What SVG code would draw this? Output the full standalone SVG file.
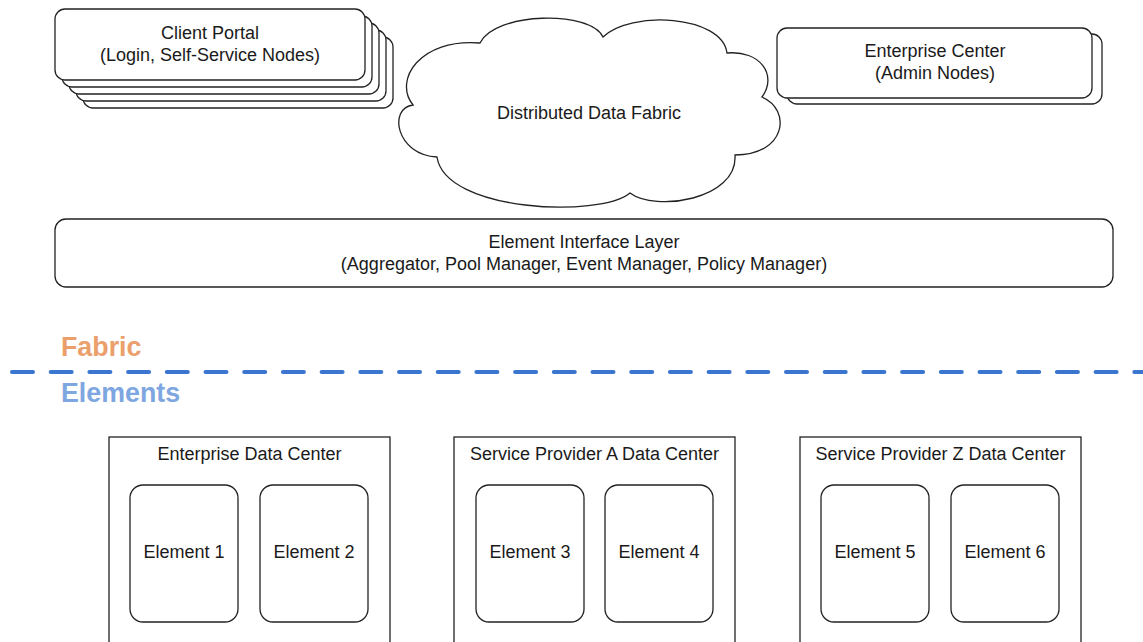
<svg xmlns="http://www.w3.org/2000/svg" width="1143" height="642" viewBox="0 0 1143 642">
<style>
.box{fill:#fff;stroke:#222;stroke-width:1.3}
.t{font-family:"Liberation Sans",Arial,sans-serif;font-size:18px;fill:#1a1a1a;text-anchor:middle}
.lbl{font-family:"Liberation Sans",Arial,sans-serif;font-size:26.8px;font-weight:bold}
</style>
<rect width="1143" height="642" fill="#fff"/>
<g id="client-portal">
<rect class="box" x="83" y="37" width="310" height="71" rx="10"/>
<rect class="box" x="76" y="30" width="310" height="71" rx="10"/>
<rect class="box" x="69" y="23" width="310" height="71" rx="10"/>
<rect class="box" x="62" y="16" width="310" height="71" rx="10"/>
<rect class="box" x="55" y="9" width="310" height="71" rx="10"/>
<text class="t" x="210" y="39">Client Portal</text>
<text class="t" x="210" y="61">(Login, Self-Service Nodes)</text>
</g>
<g id="cloud">
<path class="box" d="M480 43 C495 12,590 10,603 37 C630 10,722 15,727 53 C760 50,778 75,762 97 C792 110,786 155,735 155 C738 200,655 212,630 193 C600 218,445 212,437 157 C396 155,388 108,413 105 C393 80,420 38,480 43 Z"/>
<text class="t" x="589" y="119">Distributed Data Fabric</text>
</g>
<g id="enterprise-center">
<rect class="box" x="787" y="34" width="315" height="70" rx="10"/>
<rect class="box" x="777" y="28" width="315" height="70" rx="10"/>
<text class="t" x="935" y="57">Enterprise Center</text>
<text class="t" x="935" y="79">(Admin Nodes)</text>
</g>
<g id="element-interface-layer">
<rect class="box" x="55" y="219" width="1058" height="68" rx="11"/>
<text class="t" x="584" y="248">Element Interface Layer</text>
<text class="t" x="584" y="270">(Aggregator, Pool Manager, Event Manager, Policy Manager)</text>
</g>
<g id="divider">
<line x1="12" y1="372" x2="1143" y2="372" stroke="#3A75CF" stroke-width="4" stroke-linecap="round" stroke-dasharray="21 17.7"/>
<text class="lbl" x="61" y="356" fill="#EBA06C">Fabric</text>
<text class="lbl" x="61" y="402" fill="#7EA6E0">Elements</text>
</g>
<g id="enterprise-dc">
<rect class="box" x="109" y="437" width="281" height="220"/>
<text class="t" x="249.5" y="460">Enterprise Data Center</text>
</g>
<g id="element-1"><rect class="box" x="130" y="485" width="108" height="137" rx="13"/><text class="t" x="184" y="558">Element 1</text></g>
<g id="element-2"><rect class="box" x="260" y="485" width="108" height="137" rx="13"/><text class="t" x="314" y="558">Element 2</text></g>
<g id="sp-a-dc">
<rect class="box" x="454" y="437" width="281" height="220"/>
<text class="t" x="594.5" y="460">Service Provider A Data Center</text>
</g>
<g id="element-3"><rect class="box" x="476" y="485" width="108" height="137" rx="13"/><text class="t" x="530" y="558">Element 3</text></g>
<g id="element-4"><rect class="box" x="605" y="485" width="108" height="137" rx="13"/><text class="t" x="659" y="558">Element 4</text></g>
<g id="sp-z-dc">
<rect class="box" x="800" y="437" width="281" height="220"/>
<text class="t" x="940.5" y="460">Service Provider Z Data Center</text>
</g>
<g id="element-5"><rect class="box" x="821" y="485" width="108" height="137" rx="13"/><text class="t" x="875" y="558">Element 5</text></g>
<g id="element-6"><rect class="box" x="951" y="485" width="108" height="137" rx="13"/><text class="t" x="1005" y="558">Element 6</text></g>
<g id="connectors"></g>
</svg>
